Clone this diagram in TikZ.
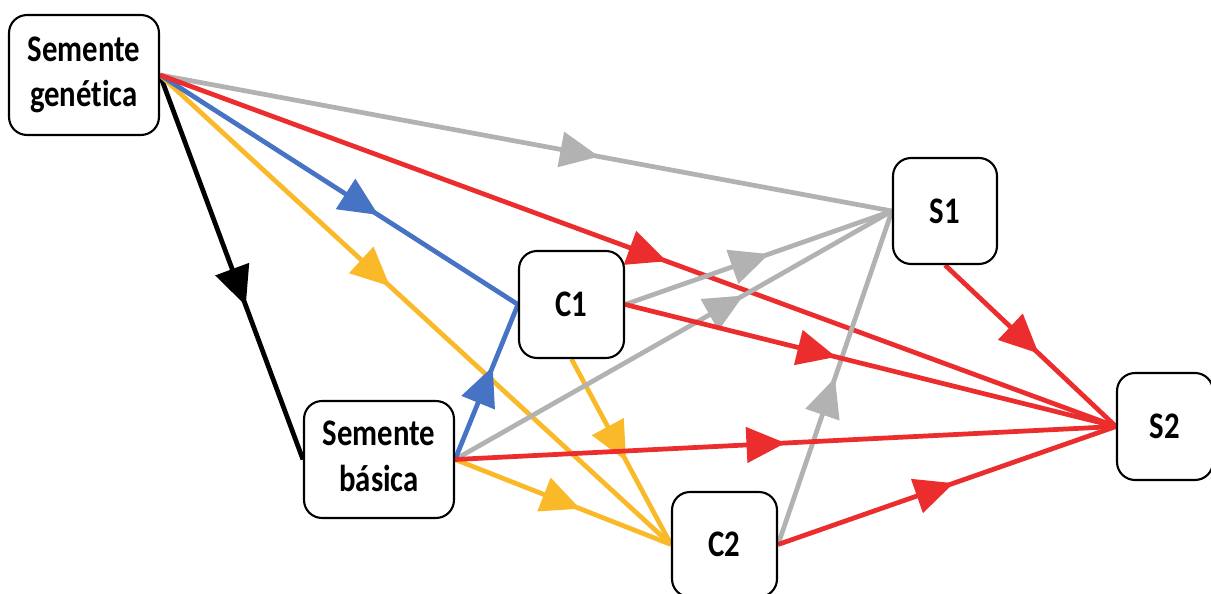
\documentclass[tikz,border=0pt]{standalone}
\usepackage{fontspec}
\setmainfont{Carlito}[Ligatures=NoCommon]
\usetikzlibrary{arrows.meta,decorations.markings,backgrounds}
\definecolor{cgray}{RGB}{178,178,178}
\definecolor{cred}{RGB}{235,45,45}
\definecolor{cblue}{RGB}{70,115,195}
\definecolor{cyellow}{RGB}{250,185,40}
\tikzset{
  box/.style={draw=black, line width=1.2pt, fill=white, rounded corners=0.36cm,
    font=\bfseries\fontsize{17.5}{21}\selectfont, inner sep=0pt, align=center},
  flow/.style 2 args={line width=2.7pt, draw=#1, postaction={decorate},
    decoration={markings, mark=at position #2 with {\arrow[#1]{Triangle[length=0.78cm,width=0.7cm]}}}},
}
\newcommand{\tall}[1]{\scalebox{1}[1.22]{#1}}
\begin{document}
\begin{tikzpicture}[x=0.02cm,y=-0.02cm]
\useasboundingbox (0,0) rectangle (1211,594);
\clip (0,0) rectangle (1211,594);
\node[box, minimum width=3cm, minimum height=2.4cm] (sg) at (84,75)
  {\tall{\begin{tabular}{c}Semente\\genética\end{tabular}}};
\node[box, minimum width=2.08cm, minimum height=2.12cm] (s1) at (945,211) {\tall{S1}};
\node[box, minimum width=2.1cm, minimum height=2.14cm] (c1) at (571.5,304.5) {\tall{C1}};
\node[box, minimum width=3cm, minimum height=2.34cm] (sb) at (379,459.5)
  {\tall{\begin{tabular}{c}Semente\\básica\end{tabular}}};
\node[box, minimum width=2.1cm, minimum height=2.1cm] (c2) at (724.5,544.5) {\tall{C2}};
\node[box, minimum width=1.92cm, minimum height=2.14cm] (s2) at (1165,426.5) {\tall{S2}};
\begin{pgfonlayer}{background}
\draw[flow={black}{0.6}] (sg.east) -- (sb.west);
\draw[flow={cyellow}{0.45}] (sg.east) -- (c2.west);
\draw[flow={cblue}{0.61}] (sg.east) -- (c1.west);
\draw[flow={cgray}{0.6}] (sg.east) -- (s1.west);
\draw[flow={cred}{0.53}] (sg.east) -- (s2.west);
\draw[flow={cyellow}{0.58}] (sb.east) -- (c2.west);
\draw[flow={cyellow}{0.55}] (c1.south) -- (c2.west);
\draw[flow={cgray}{0.66}] (sb.east) -- (s1.west);
\draw[flow={cgray}{0.54}] (c1.east) -- (s1.west);
\draw[flow={cgray}{0.5}] (c2.east) -- (s1.west);
\draw[flow={cblue}{0.6}] (sb.east) -- (c1.west);
\draw[flow={cred}{0.5}] (sb.east) -- (s2.west);
\draw[flow={cred}{0.43}] (c1.east) -- (s2.west);
\draw[flow={cred}{0.52}] (c2.east) -- (s2.west);
\draw[flow={cred}{0.55}] (s1.south) -- (s2.west);
\end{pgfonlayer}
\end{tikzpicture}
\end{document}
